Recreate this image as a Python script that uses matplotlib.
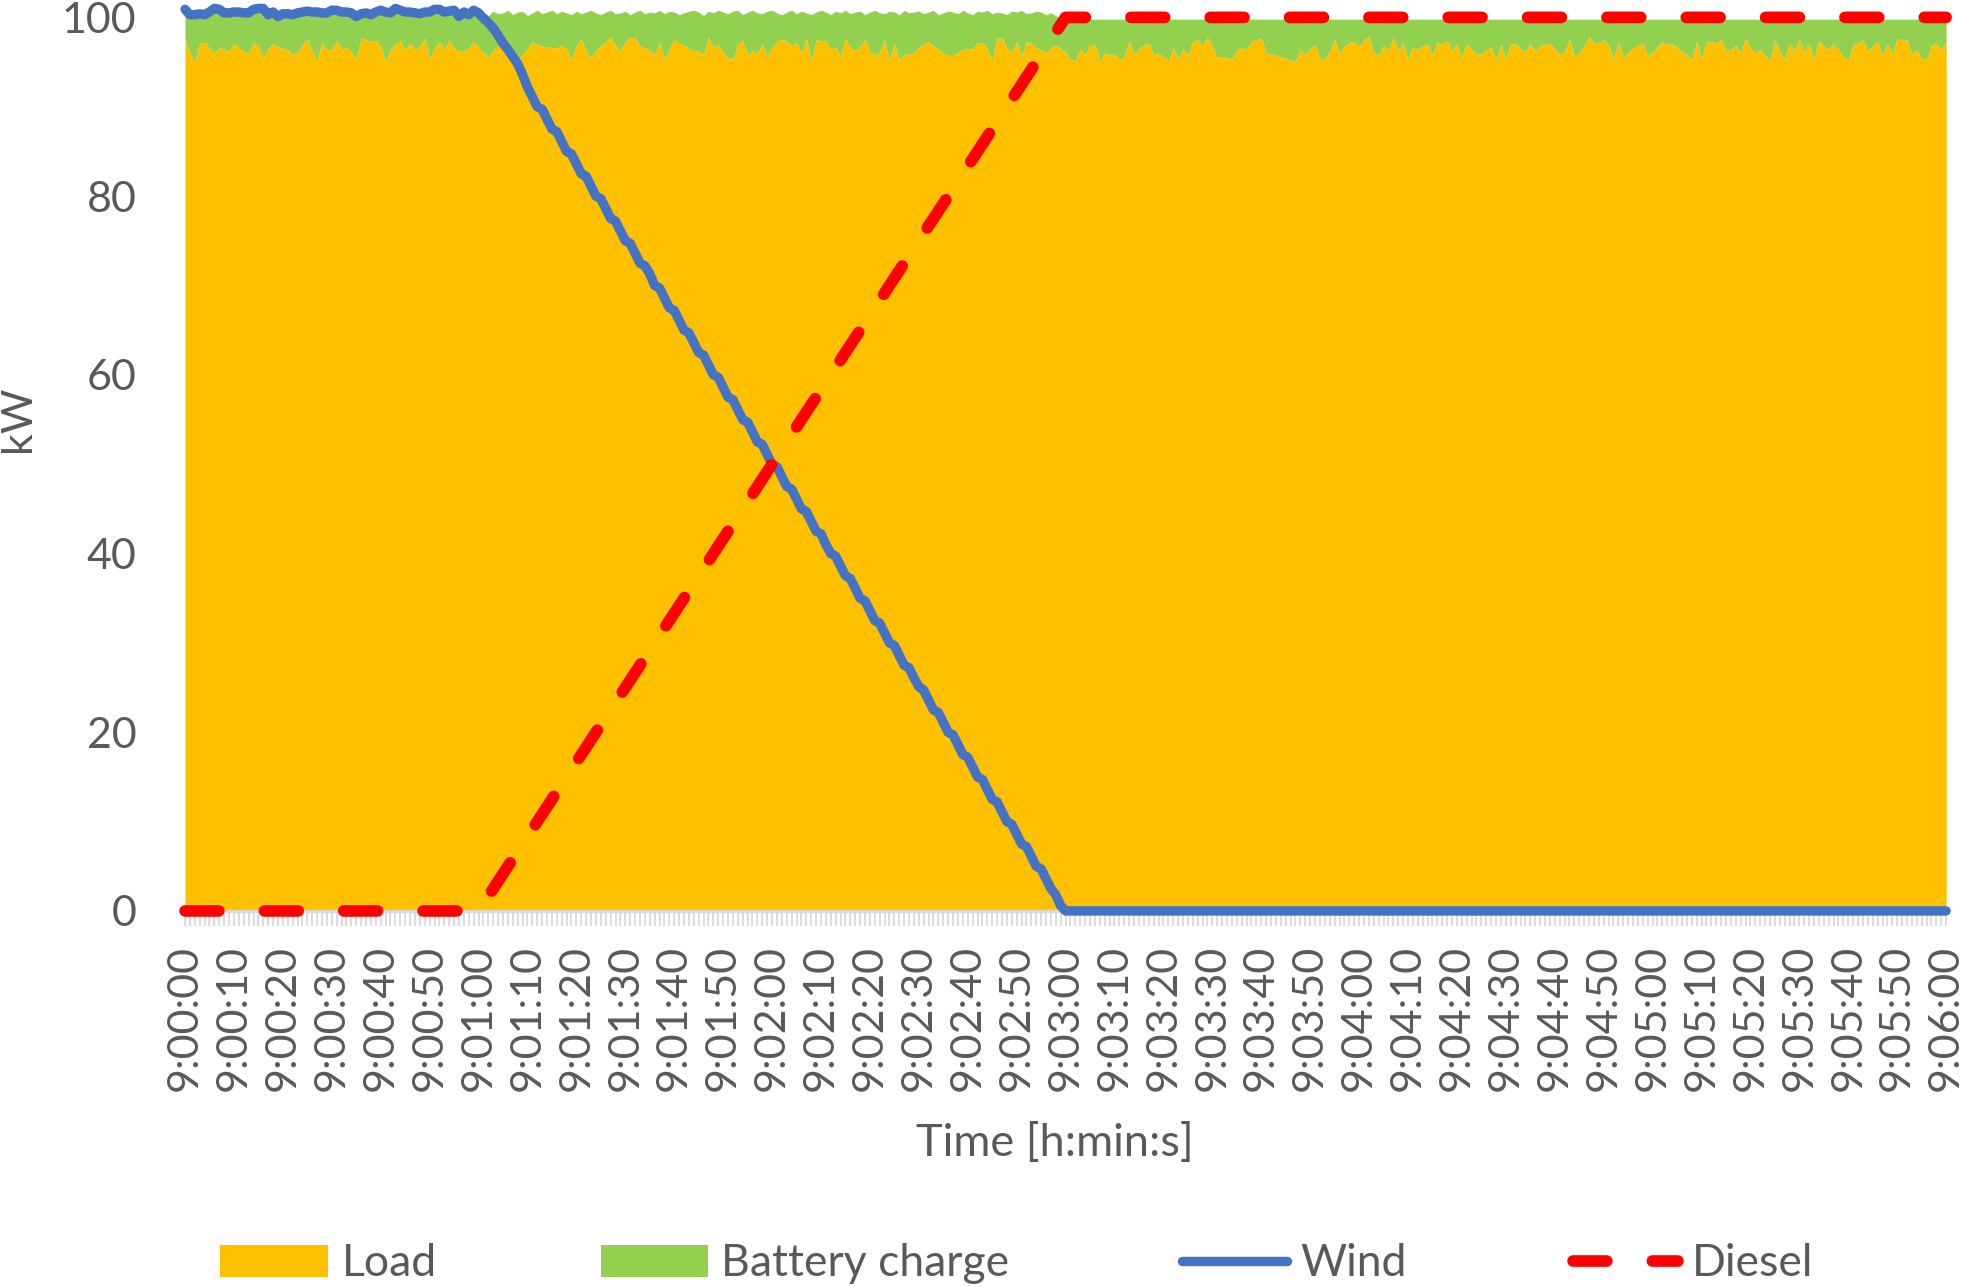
import matplotlib.pyplot as plt
import numpy as np
from matplotlib.patches import Patch
from matplotlib.lines import Line2D

plt.rcParams['font.family'] = ['Lato', 'DejaVu Sans']

# load [kW], one value per second from 9:00:00 to 9:06:00
load = [
    97.5, 96.0, 95.1, 97.1, 97.2, 96.6, 96.0, 96.6, 96.4, 96.2,
    97.1, 96.6, 96.2, 96.0, 97.1, 96.9, 95.5, 96.5, 97.1, 96.7,
    96.5, 96.4, 95.8, 96.2, 96.9, 97.6, 96.2, 95.1, 97.2, 96.3,
    96.5, 97.4, 96.4, 96.7, 96.1, 95.4, 97.7, 97.5, 97.3, 97.4,
    96.8, 95.1, 96.4, 97.0, 97.4, 96.4, 97.1, 96.3, 96.8, 97.7,
    95.3, 96.6, 97.3, 96.4, 97.4, 96.6, 96.2, 96.3, 96.6, 97.3,
    96.6, 96.0, 95.6, 96.3, 96.9, 97.3, 96.4, 95.4, 95.2, 95.8,
    96.4, 97.3, 96.9, 96.8, 96.7, 96.6, 96.6, 96.9, 96.4, 95.3,
    96.8, 97.6, 96.2, 95.5, 96.3, 96.8, 97.3, 97.8, 96.9, 96.2,
    97.3, 97.7, 97.8, 96.8, 96.5, 96.4, 95.8, 97.2, 95.3, 96.5,
    97.5, 97.1, 96.9, 96.5, 96.2, 96.3, 95.8, 97.8, 96.7, 96.9,
    96.1, 95.5, 95.3, 97.0, 97.4, 95.8, 96.3, 96.0, 97.1, 95.6,
    96.7, 97.3, 97.6, 97.3, 96.9, 97.2, 96.0, 97.7, 95.1, 97.5,
    97.4, 97.3, 96.4, 96.7, 95.6, 97.7, 96.6, 96.3, 96.8, 97.5,
    96.2, 95.8, 96.0, 97.5, 95.1, 97.1, 95.3, 95.8, 95.9, 96.0,
    96.7, 97.0, 97.3, 96.8, 96.4, 96.0, 95.8, 95.7, 96.1, 96.4,
    96.5, 96.5, 97.1, 97.2, 96.5, 95.2, 97.7, 97.7, 96.5, 96.2,
    97.3, 95.6, 97.3, 97.1, 96.6, 96.4, 96.0, 96.6, 96.9, 96.5,
    96.1, 95.3, 95.2, 96.5, 95.8, 96.9, 97.0, 95.1, 96.0, 95.8,
    95.9, 95.3, 95.6, 97.4, 95.8, 96.5, 96.9, 97.1, 95.8, 96.0,
    95.6, 95.1, 96.6, 95.3, 96.5, 95.8, 97.3, 97.5, 96.8, 97.8,
    96.8, 95.5, 95.6, 95.5, 95.3, 96.3, 96.7, 96.4, 97.3, 97.5,
    97.7, 96.0, 95.9, 95.8, 95.6, 95.4, 95.2, 95.1, 96.4, 95.8,
    96.5, 97.0, 95.4, 95.4, 96.2, 97.6, 96.0, 96.8, 97.2, 97.3,
    96.7, 97.5, 97.9, 96.0, 95.8, 96.9, 96.3, 97.8, 96.3, 97.1,
    95.3, 96.7, 96.4, 96.8, 97.0, 95.8, 97.3, 97.0, 97.4, 96.2,
    97.1, 95.5, 97.1, 96.5, 95.8, 96.0, 96.3, 96.7, 95.3, 97.0,
    95.3, 97.1, 97.0, 96.5, 96.2, 97.1, 96.2, 96.9, 97.0, 97.1,
    96.5, 95.9, 96.1, 97.6, 95.7, 96.0, 96.8, 97.9, 97.1, 97.1,
    97.5, 96.9, 95.3, 97.2, 95.6, 96.0, 96.6, 96.9, 97.1, 95.7,
    96.1, 96.7, 97.3, 97.0, 97.0, 96.7, 96.1, 95.8, 95.3, 97.3,
    95.4, 97.2, 97.3, 97.1, 97.6, 96.3, 96.4, 96.9, 96.0, 97.7,
    96.6, 96.0, 96.4, 95.8, 95.2, 97.5, 96.2, 95.3, 97.1, 96.2,
    97.5, 96.1, 97.1, 95.3, 97.4, 96.8, 96.4, 97.1, 96.4, 95.6,
    95.2, 97.0, 97.1, 97.5, 96.2, 96.8, 97.3, 95.7, 97.1, 96.0,
    97.6, 97.5, 97.5, 95.9, 96.4, 95.4, 95.3, 96.9, 97.1, 96.4,
    97.3,
]

# upper edge of the stacked battery charge area (load + battery charge)
charge_top = [
    100.5, 100.3, 100.2, 100.4, 100.3, 100.5, 100.7, 100.6, 100.4, 100.4,
    100.5, 100.4, 100.3, 100.4, 100.6, 100.7, 100.6, 100.2, 100.4, 100.1,
    100.3, 100.3, 100.2, 100.4, 100.5, 100.5, 100.4, 100.4, 100.3, 100.4,
    100.6, 100.6, 100.5, 100.4, 100.3, 100.1, 100.3, 100.4, 100.2, 100.5,
    100.6, 100.5, 100.4, 100.7, 100.6, 100.5, 100.4, 100.4, 100.3, 100.5,
    100.4, 100.7, 100.6, 100.5, 100.5, 100.6, 100.2, 100.4, 100.3, 100.6,
    100.4, 100.6, 100.2, 100.7, 100.4, 100.5, 100.8, 100.3, 100.6, 100.7,
    100.2, 100.5, 100.8, 100.4, 100.6, 100.8, 100.4, 100.7, 100.5, 100.3,
    100.7, 100.4, 100.6, 100.8, 100.5, 100.3, 100.6, 100.8, 100.4, 100.5,
    100.7, 100.3, 100.6, 100.8, 100.4, 100.6, 100.5, 100.8, 100.4, 100.7,
    100.6, 100.3, 100.5, 100.7, 100.8, 100.6, 100.2, 100.7, 100.5, 100.8,
    100.6, 100.4, 100.7, 100.8, 100.3, 100.6, 100.8, 100.5, 100.4, 100.7,
    100.8, 100.5, 100.3, 100.6, 100.8, 100.4, 100.7, 100.5, 100.3, 100.6,
    100.8, 100.6, 100.3, 100.7, 100.5, 100.8, 100.4, 100.6, 100.7, 100.3,
    100.6, 100.8, 100.5, 100.4, 100.7, 100.6, 100.3, 100.8, 100.5, 100.6,
    100.7, 100.4, 100.6, 100.8, 100.3, 100.5, 100.7, 100.6, 100.4, 100.8,
    100.5, 100.3, 100.7, 100.6, 100.8, 100.4, 100.6, 100.5, 100.3, 100.7,
    100.6, 100.8, 100.4, 100.5, 100.7, 100.6, 100.3, 100.5, 100.2, 99.9,
] + [99.8] * 181

# wind power [kW], 9:00:00 to 9:03:00, zero afterwards
wind = [
    100.9, 100.3, 100.3, 100.4, 100.3, 100.6, 101.0, 100.9, 100.5, 100.5,
    100.6, 100.6, 100.5, 100.5, 100.9, 101.0, 101.0, 100.3, 100.6, 100.1,
    100.4, 100.4, 100.3, 100.5, 100.6, 100.7, 100.6, 100.6, 100.5, 100.5,
    100.8, 100.8, 100.6, 100.6, 100.5, 100.1, 100.4, 100.5, 100.3, 100.6,
    100.8, 100.6, 100.5, 101.0, 100.8, 100.6, 100.6, 100.5, 100.4, 100.6,
    100.6, 100.9, 100.9, 100.6, 100.7, 100.8, 100.1, 100.6, 100.3, 100.8,
    100.5, 99.9, 99.4, 98.8, 98.0, 97.1, 96.4, 95.6, 94.8, 93.6,
    92.2, 91.1, 90.0, 89.7, 88.6, 87.5, 87.2, 86.1, 85.0, 84.7,
    83.6, 82.5, 82.2, 81.1, 80.0, 79.7, 78.6, 77.5, 77.2, 76.1,
    75.0, 74.7, 73.6, 72.5, 72.2, 71.3, 70.0, 69.7, 68.6, 67.5,
    67.2, 66.1, 65.0, 64.7, 63.6, 62.5, 62.2, 61.1, 60.0, 59.7,
    58.6, 57.5, 57.2, 56.1, 55.0, 54.7, 53.6, 52.5, 52.2, 51.1,
    50.0, 49.7, 48.6, 47.5, 47.2, 46.1, 45.0, 44.7, 43.6, 42.5,
    42.2, 41.0, 40.0, 39.7, 38.6, 37.5, 37.2, 36.1, 35.0, 34.7,
    33.6, 32.5, 32.2, 31.1, 30.0, 29.7, 28.6, 27.5, 27.2, 26.1,
    25.1, 24.7, 23.6, 22.5, 22.2, 21.1, 20.0, 19.7, 18.6, 17.5,
    17.2, 16.1, 15.0, 14.7, 13.6, 12.5, 12.2, 11.1, 10.0, 9.7,
    8.6, 7.5, 7.2, 6.1, 5.0, 4.7, 3.6, 2.5, 1.8, 0.6,
    0.0,
] + [0.0] * 180

# diesel power [kW]: off, linear ramp 9:01:00 -> 9:03:00, full
diesel_t = [0, 60, 180, 360]
diesel_kw = [0, 0, 100, 100]

tick_labels = [
    "9:00:00", "9:00:10", "9:00:20", "9:00:30", "9:00:40", "9:00:50",
    "9:01:00", "9:01:10", "9:01:20", "9:01:30", "9:01:40", "9:01:50",
    "9:02:00", "9:02:10", "9:02:20", "9:02:30", "9:02:40", "9:02:50",
    "9:03:00", "9:03:10", "9:03:20", "9:03:30", "9:03:40", "9:03:50",
    "9:04:00", "9:04:10", "9:04:20", "9:04:30", "9:04:40", "9:04:50",
    "9:05:00", "9:05:10", "9:05:20", "9:05:30", "9:05:40", "9:05:50",
    "9:06:00",
]

c_load = '#FFC000'
c_batt = '#92D050'
c_wind = '#4472C4'
c_diesel = '#FF0000'
c_text = '#595959'
c_axis = '#D9D9D9'
fs = 31

seconds = np.arange(len(load))

fig = plt.figure(figsize=(19.62, 12.87), dpi=100)
ax = fig.add_axes([0.0943, 0.2922, 0.8976, 0.6943])

ax.fill_between(seconds, 0, load, color=c_load, lw=0, clip_on=False, zorder=1)
ax.fill_between(seconds, load, charge_top, color=c_batt, lw=0, clip_on=False, zorder=1)
ax.plot(seconds, wind, color=c_wind, lw=6.8, solid_joinstyle='round',
        solid_capstyle='round', clip_on=False, zorder=3)
ax.plot(diesel_t, diesel_kw, color=c_diesel, lw=8.4, dashes=(2.9, 3.9),
        dash_capstyle='round', dash_joinstyle='round', clip_on=False, zorder=4)

ax.set_xlim(0, 360)
ax.set_ylim(0, 100)
ax.set_yticks([0, 20, 40, 60, 80, 100])
ax.set_xticks(np.arange(0, 361, 10))
ax.set_xticklabels(tick_labels, rotation=90)
ax.set_xticks(seconds, minor=True)

ax.tick_params(axis='x', which='both', length=10.5, width=1.3, color=c_axis, direction='out')
ax.tick_params(axis='x', which='major', pad=14, labelsize=fs, labelcolor=c_text)
ax.tick_params(axis='y', length=0, pad=35, labelsize=fs, labelcolor=c_text)

for s in ['top', 'right', 'left']:
    ax.spines[s].set_visible(False)
ax.spines['bottom'].set_color(c_axis)
ax.spines['bottom'].set_linewidth(2.4)

ax.set_xlabel('Time [h:min:s]', fontsize=32.5, color=c_text, va='center')
ax.xaxis.set_label_coords(0.494, -0.2608)
ax.set_ylabel('kW', fontsize=fs, color=c_text, va='center')
ax.yaxis.set_label_coords(-0.0948, 0.5506)

# legend, one entry at a time so the spacing matches
entries = [
    (Patch(facecolor=c_load, lw=0), 'Load', 220, 2.44),
    (Patch(facecolor=c_batt, lw=0), 'Battery charge', 601, 2.4),
    (Line2D([], [], color=c_wind, lw=6.8, solid_capstyle='round'), 'Wind', 1182, 2.37),
    (Line2D([], [], color=c_diesel, lw=8.4, dashes=(2.9, 3.9), dash_capstyle='round'),
     'Diesel', 1573, 2.37),
]
for h, lab, x_px, hl in entries:
    fig.legend([h], [lab], loc='center left', bbox_to_anchor=(x_px / 1962, 1 - 1264 / 1287),
               frameon=False, borderpad=0, borderaxespad=0, handlelength=hl,
               handletextpad=0.3, handleheight=0.7, fontsize=32, labelcolor=c_text)

fig.savefig('out.png', dpi=100)
